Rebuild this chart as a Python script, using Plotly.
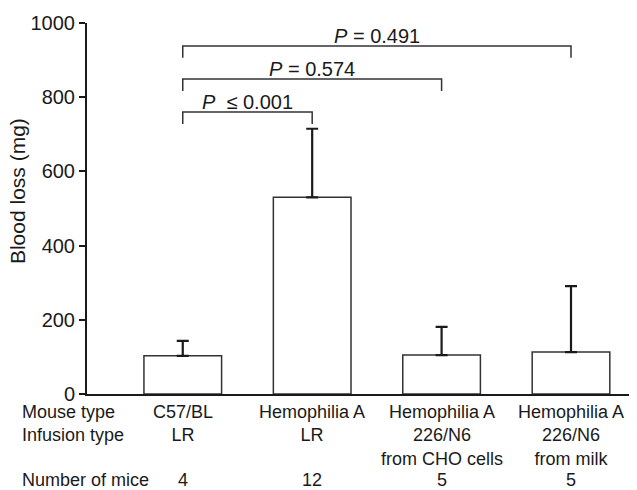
import plotly.graph_objects as go

# ---- data ----
mouse_types = ["C57/BL", "Hemophilia A", "Hemophilia A", "Hemophilia A"]
infusion_types = ["LR", "LR", "226/N6<br>from CHO cells", "226/N6<br>from milk"]
n_mice = [4, 12, 5, 5]
blood_loss = [103, 530, 105, 113]
sd_plus = [40, 185, 76, 178]
# comparisons: (group a, group b, label, bracket level in mg)
cmp_a = [0, 0, 0]
cmp_b = [1, 2, 3]
cmp_label = ["<i>P</i>  ≤ 0.001", "<i>P</i> = 0.574", "<i>P</i> = 0.491"]
cmp_level = [760, 849, 938]
row_labels = ["Mouse type<br>Infusion type", "Number of mice"]
y_ticks = [0, 200, 400, 600, 800, 1000]
y_title = "Blood loss (mg)"

FONT = "Liberation Sans, Arial, Helvetica, sans-serif"
INK = "#1a1a1a"

x = list(range(len(blood_loss)))

fig = go.Figure()
fig.add_trace(go.Bar(
    x=x, y=blood_loss, width=0.6,
    marker=dict(color="white", line=dict(color="#333333", width=1.5)),
    error_y=dict(type="data", symmetric=False, array=sd_plus,
                 arrayminus=[0] * len(sd_plus), color=INK,
                 thickness=2.2, width=6),
    showlegend=False, hoverinfo="skip",
))

shapes = []
annotations = []
drop = 32  # bracket leg length in mg
for a, b, lab, lev in zip(cmp_a, cmp_b, cmp_label, cmp_level):
    shapes.append(dict(type="path", xref="x", yref="y",
                       path=f"M {a},{lev - drop} L {a},{lev} L {b},{lev} L {b},{lev - drop}",
                       line=dict(color="#333333", width=1.5)))
    annotations.append(dict(x=(a + b) / 2, y=lev, xref="x", yref="y",
                            text=lab, showarrow=False, yanchor="bottom",
                            yshift=-3, font=dict(size=20, color=INK, family=FONT)))

for i in x:
    annotations.append(dict(x=i, y=0, xref="x", yref="paper",
                            text=f"{mouse_types[i]}<br>{infusion_types[i]}",
                            showarrow=False, yanchor="top", yshift=-6,
                            align="center",
                            font=dict(size=18, color=INK, family=FONT)))
    annotations.append(dict(x=i, y=0, xref="x", yref="paper",
                            text=str(n_mice[i]), showarrow=False,
                            yanchor="top", yshift=-74,
                            font=dict(size=18, color=INK, family=FONT)))

annotations.append(dict(x=0, y=0, xref="paper", yref="paper",
                        text=row_labels[0], showarrow=False, xanchor="left",
                        xshift=-67, yanchor="top", yshift=-6, align="left",
                        font=dict(size=18, color=INK, family=FONT)))
annotations.append(dict(x=0, y=0, xref="paper", yref="paper",
                        text=row_labels[1], showarrow=False, xanchor="left",
                        xshift=-67, yanchor="top", yshift=-74, align="left",
                        font=dict(size=18, color=INK, family=FONT)))
annotations.append(dict(x=0, y=0.547, xref="paper", yref="paper",
                        text=y_title, showarrow=False, textangle=-90,
                        xanchor="center", yanchor="middle", xshift=-70,
                        font=dict(size=21, color=INK, family=FONT)))

fig.update_layout(
    width=629, height=482,
    margin=dict(l=79, r=0, t=15, b=96, autoexpand=False),
    paper_bgcolor="white", plot_bgcolor="white",
    font=dict(family=FONT, color=INK),
    shapes=shapes, annotations=annotations,
    xaxis=dict(range=[-0.74, 3.51], showticklabels=False, ticks="",
               showgrid=False, zeroline=False, showline=True,
               linecolor=INK, linewidth=2, automargin=False),
    yaxis=dict(range=[0, 1000], tickvals=y_ticks, ticks="outside",
               ticklen=6, tickwidth=2, tickcolor=INK,
               showgrid=False, zeroline=False, showline=True,
               linecolor=INK, linewidth=2, automargin=False,
               tickfont=dict(size=20, color=INK, family=FONT)),
    bargap=0.4,
)

fig.write_html("out.html")
